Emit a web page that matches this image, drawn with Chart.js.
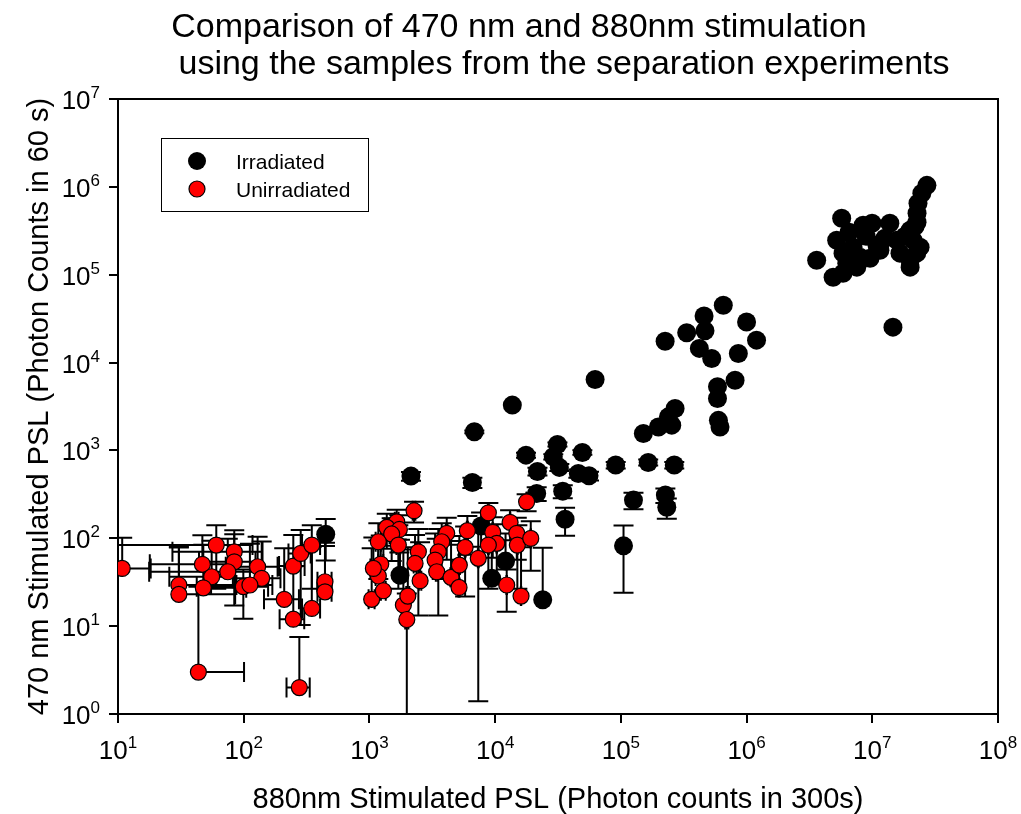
<!DOCTYPE html>
<html>
<head>
<meta charset="utf-8">
<title>470 nm vs 880 nm stimulation</title>
<script src="https://cdn.jsdelivr.net/npm/chart.js@4.4.1/dist/chart.umd.min.js"></script>
<style>
    html, body { margin: 0; padding: 0; background: #fff; }
    canvas { display: block; }
</style>
</head>
<body>
<canvas id="pslChart" width="1021" height="814"></canvas>
<script>
// decade ticks for both log axes
const xTicks = [1e1, 1e2, 1e3, 1e4, 1e5, 1e6, 1e7, 1e8];
const yTicks = [1e0, 1e1, 1e2, 1e3, 1e4, 1e5, 1e6, 1e7];

// Irradiated samples: 880nm PSL (x) vs 470 nm PSL (y)
const irrX = [2.72e7, 2.48e7, 2.31e7, 2.27e7, 2.27e7, 5.71e6, 8.45e6, 9.96e6, 1.38e7, 2.0e7,
    5.21e6, 7.03e6, 1.09e7, 1.57e7, 2.11e7, 2.4e7, 5.85e6, 8.0e6, 1.66e7, 2.26e7,
    3.61e6, 6.27e6, 7.53e6, 2.0e7, 4.88e6, 5.85e6, 2.0e7, 1.46e7, 6.53e5, 4.59e5,
    1.0e6, 3.34e5, 4.67e5, 2.25e5, 1.2e6, 4.21e5, 5.28e5, 8.6e5, 8.1e5, 5.87e5,
    5.87e5, 5.97e5, 6.15e5, 6.24e4, 2.7e5, 2.39e5, 2.54e5, 1.99e5, 1.51e5, 1.37e4,
    6830, 6590, 1.76e4, 3.13e4, 2.9e4, 2.17e4, 3.24e4, 4.94e4, 4.59e4, 5.58e4,
    9.1e4, 1.65e5, 2.66e5, 2.14e4, 3.45e4, 3.6e4, 1.26e5, 2.26e5, 2.32e5, 1.05e5,
    2.39e4, 1.21e4, 9400, 449, 2140, 1750, 7730,
    8.93e6, 1.26e7, 1.82e7, 6.55e6, 1.15e7, 2.19e7, 9.6e6];
const irrY = [1.04e6, 8.45e5, 6.5e5, 5.0e5, 3.95e5, 4.39e5, 3.66e5, 3.86e5, 3.86e5, 3.21e5,
    2.47e5, 2.06e5, 2.17e5, 2.47e5, 2.47e5, 2.06e5, 1.76e5, 1.58e5, 1.76e5, 1.76e5,
    1.46e5, 1.35e5, 1.22e5, 1.46e5, 9.37e4, 1.04e5, 1.22e5, 2.53e4, 4.5e4, 3.4e4,
    2.9e4, 2.18e4, 2.3e4, 1.75e4, 1.8e4, 1.45e4, 1.11e4, 1.27e4, 6300, 5300,
    3900, 2200, 1850, 6430, 3000, 2410, 1940, 1850, 1560, 3280,
    1630, 432, 884, 1170, 846, 577, 641, 949, 547, 514,
    681, 730, 681, 324, 344, 165, 272, 310, 225, 82,
    20, 55, 35, 111, 510, 38, 138,
    2.74e5, 2.6e5, 2.74e5, 3.04e5, 1.9e5, 3.56e5, 1.54e5];
const irrYErr = [0, 0, 0, 0, 0, 0, 0, 0, 0, 0,
    0, 0, 0, 0, 0, 0, 0, 0, 0, 0,
    0, 0, 0, 0, 0, 0, 0, 0, 0, 0,
    0, 0, 0, 0, 0, 0, 0, 0, 0, 0,
    0, 0, 0, 0, 0, 0, 0, 0, 0, 0,
    58, 58, 58, 58, 58, 58, 58, 58, 58, 58,
    58, 58, 58, 58, 58, 58, 58, 58, 58, 58,
    58, 58, 58, 55, 58, 58, 58,
    0, 0, 0, 0, 0, 0, 0];

// Unirradiated samples
const unirrX = [10.8, 43.6, 277, 30.5, 30.5, 46.9, 60.5, 84.1, 84.1, 74.7,
    55.6, 47.7, 99.3, 129, 139, 248, 284, 348, 443, 443,
    210, 348, 248, 1042, 2264, 8830, 17800, 1648, 1374, 1730,
    1503, 1177, 1698, 4120, 3760, 6010, 5770, 3530, 3330, 2450,
    2306, 1231, 1177, 1075, 1291, 2530, 3430, 4460, 5160, 5190,
    7340, 9570, 10300, 13150, 14860, 15020, 19200, 12360, 16070, 1862,
    1983, 2020, 8830, 112];
const unirrY = [45.4, 3.0, 2.0, 29.4, 23.0, 50.5, 83.7, 70.2, 54.0, 41.6,
    36.5, 27.3, 28.1, 47.4, 35.0, 48.3, 67.3, 83.7, 32.0, 24.6,
    20.2, 15.9, 12.0, 20.2, 206, 195, 260, 154, 133, 126,
    112, 91.3, 83.7, 114, 91.3, 122, 78.8, 70.2, 56.5, 70.2,
    51.8, 50.9, 37.2, 45.4, 25.3, 32.9, 41.6, 35.9, 27.6, 49.5,
    59.1, 117, 87.5, 152, 114, 83.7, 99.7, 29.4, 22.0, 17.4,
    11.9, 22.0, 83.7, 29.4];
const unirrYErr = [56, 25, 5.5, 49, 57, 58, 57, 53, 57, 57,
    57, 57, 16, 57, 57, 61, 57, 57, 57, 57,
    57, 64, 36, 57, 55, 57, 57, 57, 57, 57,
    57, 57, 57, 57, 57, 57, 57, 57, 57, 57,
    57, 57, 57, 57, 57, 57, 57, 57, 57, 57,
    57.7, 57, 57, 57, 57, 57, 57, 14.8, 57, 57,
    11.6, 57, 57, 57];
const unirrXErr = [7.4, 57, 58, 57, 55, 29, 57, 57, 40, 57,
    30, 57, 57, 57, 57, 57, 57, 57, 57, 57,
    65, 57, 55, 57, 57, 57, 57, 57, 57, 57,
    57, 57, 57, 57, 57, 57, 57, 57, 57, 57,
    57, 57, 57, 57, 57, 57, 57, 57, 57, 57,
    57, 57, 57, 57, 57, 57, 57, 57, 57, 57,
    57, 57, 57, 57];

const FONT = '"Liberation Sans", Arial, sans-serif';

function toPoints(xs, ys, eys, exs) {
    return xs.map((x, i) => ({ x: x, y: ys[i], ey: eys ? eys[i] : 0, ex: exs ? exs[i] : 0 }));
}

function drawBar(ctx, x0, y0, x1, y1, vertical) {
    const cap = 10;
    ctx.beginPath();
    ctx.moveTo(x0, y0);
    ctx.lineTo(x1, y1);
    if (vertical) {
        ctx.moveTo(x1 - cap, y1);
        ctx.lineTo(x1 + cap, y1);
    } else {
        ctx.moveTo(x1, y1 - cap);
        ctx.lineTo(x1, y1 + cap);
    }
    ctx.stroke();
}

// error bars go under the symbols; a lower end at or below zero is skipped
const errorBars = {
    id: 'errorBars',
    beforeDatasetsDraw(chart) {
        const ctx = chart.ctx;
        const area = chart.chartArea;
        const xs = chart.scales.x;
        const ys = chart.scales.y;
        ctx.save();
        ctx.beginPath();
        ctx.rect(area.left, area.top, area.right - area.left, area.bottom - area.top);
        ctx.clip();
        ctx.strokeStyle = '#000';
        ctx.lineWidth = 2;
        chart.data.datasets.forEach(function(ds) {
            ds.data.forEach(function(p) {
                const px = xs.getPixelForValue(p.x);
                const py = ys.getPixelForValue(p.y);
                if (p.ey > 0) {
                    drawBar(ctx, px, py, px, ys.getPixelForValue(p.y + p.ey), true);
                    if (p.y - p.ey > 0) {
                        drawBar(ctx, px, py, px, ys.getPixelForValue(p.y - p.ey), true);
                    }
                }
                if (p.ex > 0) {
                    drawBar(ctx, px, py, xs.getPixelForValue(p.x + p.ex), py, false);
                    if (p.x - p.ex > 0) {
                        drawBar(ctx, px, py, xs.getPixelForValue(p.x - p.ex), py, false);
                    }
                }
            });
        });
        ctx.restore();
    }
};

function powerLabel(ctx, exp, x, y, align) {
    ctx.font = '26px ' + FONT;
    const wBase = ctx.measureText('10').width;
    ctx.font = '17px ' + FONT;
    const wExp = ctx.measureText(String(exp)).width;
    const total = wBase + wExp;
    const left = align === 'center' ? x - total / 2 : x - total;
    ctx.textAlign = 'left';
    ctx.textBaseline = 'alphabetic';
    ctx.font = '26px ' + FONT;
    ctx.fillText('10', left, y);
    ctx.font = '17px ' + FONT;
    ctx.fillText(String(exp), left + wBase, y - 11);
}

// frame, tick labels, titles and legend box
const decorations = {
    id: 'decorations',
    afterDraw(chart) {
        const ctx = chart.ctx;
        const area = chart.chartArea;
        const xs = chart.scales.x;
        const ys = chart.scales.y;
        ctx.save();
        ctx.fillStyle = '#000';
        ctx.strokeStyle = '#000';

        ctx.lineWidth = 2;
        ctx.beginPath();
        ctx.moveTo(area.left, area.top);
        ctx.lineTo(area.right, area.top);
        ctx.lineTo(area.right, area.bottom);
        ctx.stroke();

        xs.ticks.forEach(function(t) {
            const px = xs.getPixelForValue(t.value);
            powerLabel(ctx, Math.round(Math.log10(t.value)), px, area.bottom + 45, 'center');
        });
        ys.ticks.forEach(function(t) {
            const py = ys.getPixelForValue(t.value);
            powerLabel(ctx, Math.round(Math.log10(t.value)), area.left - 18, py + 10, 'right');
        });

        ctx.textAlign = 'center';
        ctx.textBaseline = 'alphabetic';
        ctx.font = '34px ' + FONT;
        ctx.fillText('Comparison of 470 nm and 880nm stimulation', 519, 37);
        ctx.fillText('using the samples from the separation experiments', 564, 74);

        ctx.font = '29px ' + FONT;
        ctx.fillText('880nm Stimulated PSL (Photon counts in 300s)', (area.left + area.right) / 2, 808);
        ctx.save();
        ctx.translate(48, (area.top + area.bottom) / 2);
        ctx.rotate(-Math.PI / 2);
        ctx.fillText('470 nm Stimulated PSL (Photon Counts in 60 s)', 0, 0);
        ctx.restore();

        // legend
        ctx.lineWidth = 1;
        ctx.strokeRect(161.5, 138.5, 207, 73);
        ctx.beginPath();
        ctx.arc(197, 161, 9, 0, Math.PI * 2);
        ctx.fillStyle = '#000';
        ctx.fill();
        ctx.beginPath();
        ctx.arc(197, 189, 8, 0, Math.PI * 2);
        ctx.fillStyle = '#ff0000';
        ctx.fill();
        ctx.lineWidth = 1.2;
        ctx.stroke();
        ctx.fillStyle = '#000';
        ctx.textAlign = 'left';
        ctx.font = '21px ' + FONT;
        ctx.fillText('Irradiated', 236, 169);
        ctx.fillText('Unirradiated', 236, 197);
        ctx.restore();
    }
};

function decadeAxis(min, max, ticks, fit) {
    return {
        type: 'logarithmic',
        min: min,
        max: max,
        afterBuildTicks: function(scale) {
            scale.ticks = ticks.map(v => ({ value: v }));
        },
        afterFit: fit,
        ticks: { display: false },
        grid: {
            drawOnChartArea: false,
            drawTicks: true,
            tickLength: 9,
            color: '#000',
            lineWidth: 2
        },
        border: { display: true, color: '#000', width: 2 }
    };
}

new Chart(document.getElementById('pslChart').getContext('2d'), {
    type: 'scatter',
    data: {
        datasets: [
            {
                label: 'Irradiated',
                data: toPoints(irrX, irrY, irrYErr, null),
                backgroundColor: '#000',
                borderColor: '#000',
                borderWidth: 0,
                pointRadius: 9.5,
                order: 1
            },
            {
                label: 'Unirradiated',
                data: toPoints(unirrX, unirrY, unirrYErr, unirrXErr),
                backgroundColor: '#ff0000',
                borderColor: '#000',
                borderWidth: 1.2,
                pointRadius: 8,
                order: 0
            }
        ]
    },
    options: {
        responsive: false,
        animation: false,
        devicePixelRatio: 1,
        layout: { padding: { top: 99, right: 23, bottom: 0, left: 0 } },
        scales: {
            x: decadeAxis(1e1, 1e8, xTicks, function(scale) { scale.height = 100; }),
            y: decadeAxis(1e0, 1e7, yTicks, function(scale) { scale.width = 118; })
        },
        plugins: {
            legend: { display: false },
            tooltip: { enabled: false }
        }
    },
    plugins: [errorBars, decorations]
});
</script>
</body>
</html>
